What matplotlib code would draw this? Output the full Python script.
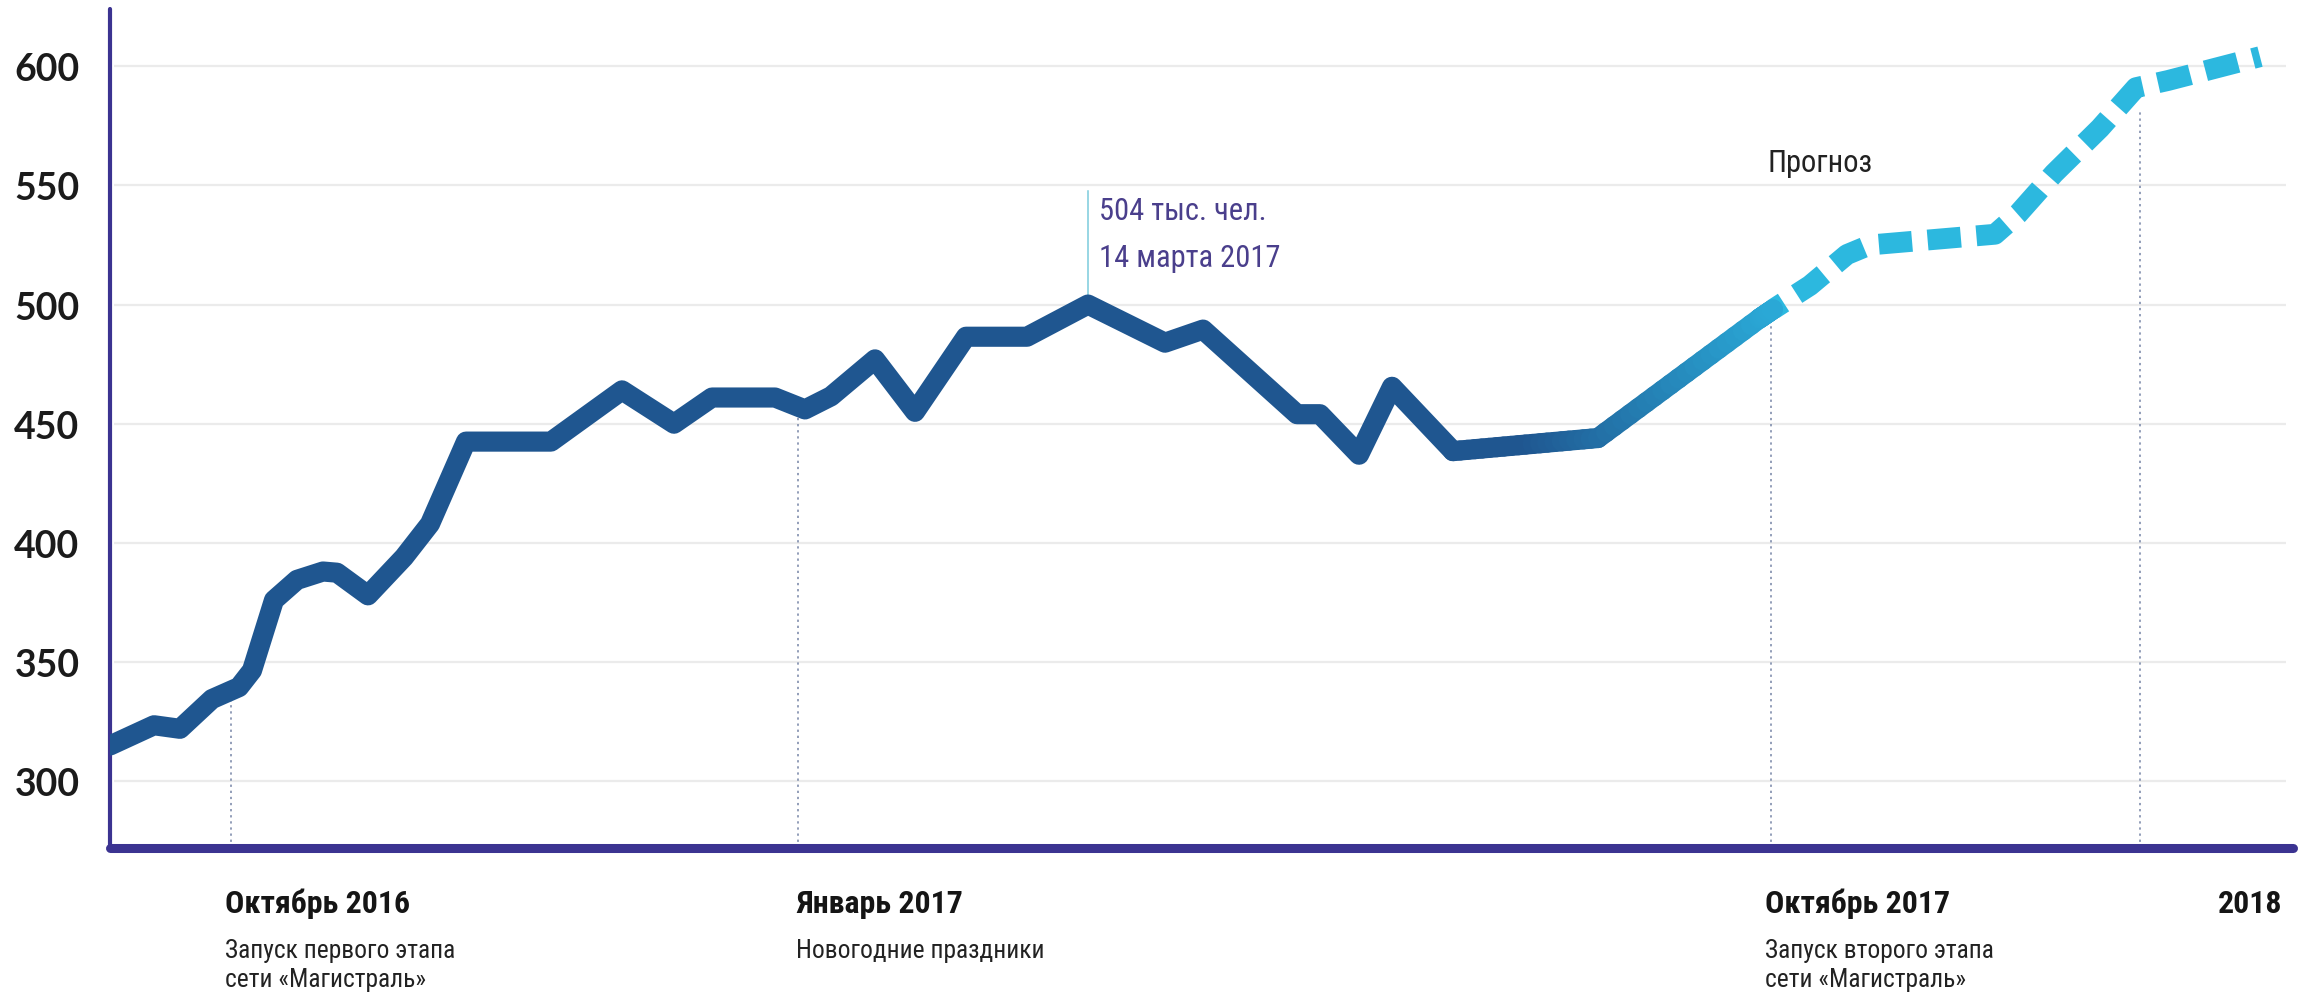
import numpy as np
import matplotlib
matplotlib.use("Agg")
import matplotlib.pyplot as plt
from matplotlib import font_manager
from matplotlib.collections import LineCollection
from matplotlib.colors import to_rgb

# fonts: a narrow face for captions if one is installed, Lato for the y ticks
ttf = font_manager.fontManager.ttflist
names = {f.name for f in ttf}
narrow, stretch = "Roboto", "normal"
for cand in ["Liberation Sans Narrow", "Roboto Condensed", "Open Sans Condensed",
             "Noto Sans Condensed", "DejaVu Sans Condensed"]:
    if cand in names:
        narrow = cand
        break
else:
    for f in ttf:
        if "condensed" in str(f.stretch) and f.name in ("DejaVu Sans", "Noto Sans", "Open Sans", "Roboto"):
            narrow, stretch = f.name, "condensed"
            break
tickfont = "Lato" if "Lato" in names else "DejaVu Sans"

# passenger flow, thousand people (position along the time axis)
fact_x = [0, 44, 70, 102, 129, 142, 164, 187, 213, 227, 258, 294, 320, 356, 441, 512,
          564, 602, 665, 695, 721, 765, 805, 856, 917, 978, 1055, 1093, 1187, 1210,
          1249, 1282, 1343, 1488, 1649, 1663]
fact_y = [315, 323.5, 322, 334.5, 339.5, 346.5, 376, 384.5, 388, 387.5, 378, 394, 408,
          442.5, 442.5, 464, 450, 461, 461, 456, 461.5, 477, 455, 486.5, 486.5, 500,
          484, 489.5, 454, 454, 437, 465.5, 438.5, 444, 494, 498]

forecast_x = [1663, 1700, 1737, 1760, 1885, 1908, 1944, 1990, 2026, 2058, 2150]
forecast_y = [498, 508, 521, 525, 529.5, 538, 555, 574, 591, 594, 604]

# marked dates on the axis
event_x = [121, 688, 1661, 2030]
event_top = [337, 453, 497, 581]
event_titles = ["Октябрь 2016", "Январь 2017", "Октябрь 2017"]
event_notes = [["Запуск первого этапа", "сети «Магистраль»"], ["Новогодние праздники"],
               ["Запуск второго этапа", "сети «Магистраль»"]]
event_label_x = [115, 686, 1655]

peak_x, peak_y = 978, 500
peak_text = ["504 тыс. чел.", "14 марта 2017"]

yticks = [300, 350, 400, 450, 500, 550, 600]

W, H = 2313, 995
fig = plt.figure(figsize=(W / 100, H / 100), dpi=100)
ax = fig.add_axes([110 / W, (H - 849) / H, (2293 - 110) / W, (849 - 10) / H])
ax.set_xlim(0, 2183)
ax.set_ylim(272, 624)
renderer = fig.canvas.get_renderer()


def fit_size(text, width_px, size=20, **props):
    # font size that makes the text as wide as in the reference
    t = fig.text(0, 0, text, fontsize=size, **props)
    w = t.get_window_extent(renderer).width
    t.remove()
    return size * width_px / w


navy = "#3b3391"
dark = "#1f5690"
light = "#2aa8d6"
dash_c = "#2cb8df"

for s in ["top", "right"]:
    ax.spines[s].set_visible(False)
ax.spines["left"].set_color(navy)
ax.spines["left"].set_linewidth(3)
ax.spines["bottom"].set_color(navy)
ax.spines["bottom"].set_linewidth(6.5)
ax.spines["bottom"].set_capstyle("round")
ax.spines["left"].set_capstyle("round")

ax.set_xticks([])
ax.set_yticks(yticks)
ax.set_yticklabels([str(v) for v in yticks], fontsize=27, fontweight="bold",
                   family=tickfont, color="#1b1b1b")
ax.tick_params(axis="y", length=0, pad=22)

for v in yticks:
    ax.plot([4, 2176], [v, v], color="#ebebeb", lw=1.6, zorder=1, solid_capstyle="butt")

# dotted guides from the axis up to the line
for x, top in zip(event_x, event_top):
    ax.plot([x, x], [272, top], color="#7584a6", lw=1.1, ls=(0, (1.5, 2.5)), zorder=2)

font = dict(family=narrow, fontstretch=stretch)
kw = dict(va="baseline", ha="left", **font)
title_fs = min(fit_size("Октябрь 2016", 185, fontweight="bold", **font), 30)
note_fs = min(fit_size("Запуск первого этапа", 217, **font) * 1.06, 28)
peak_fs = min(fit_size(peak_text[1], 181, **font), 30)

# peak marker
ax.plot([peak_x, peak_x], [peak_y, 547.5], color="#7ccbdc", lw=1.1, zorder=2)
ax.text(peak_x + 11, 535.7, peak_text[0], fontsize=peak_fs, color="#4a3f8c", **kw)
ax.text(peak_x + 11, 516, peak_text[1], fontsize=peak_fs, color="#4a3f8c", **kw)

ax.text(1657, 555.9, "Прогноз", fontsize=peak_fs, color="#222222", **kw)

# actual data: dark line, fading to light blue towards the forecast
split = fact_x.index(1343)
ax.plot(fact_x[:split + 1], fact_y[:split + 1], color=dark, lw=14.5,
        solid_joinstyle="round", solid_capstyle="round", zorder=5)
segs, cols = [], []
c0, c1 = np.array(to_rgb(dark)), np.array(to_rgb(light))
for i in range(split, len(fact_x) - 1):
    xa, xb = fact_x[i], fact_x[i + 1]
    ya, yb = fact_y[i], fact_y[i + 1]
    n = 20
    for k in range(n):
        t0, t1 = k / n, (k + 1) / n
        xs0, xs1 = xa + (xb - xa) * t0, xa + (xb - xa) * t1
        segs.append([(xs0, ya + (yb - ya) * t0), (xs1, ya + (yb - ya) * t1)])
        f = np.clip((0.5 * (xs0 + xs1) - 1420) / (1663 - 1420), 0, 1)
        cols.append(c0 + (c1 - c0) * f)
lc = LineCollection(segs, colors=cols, linewidths=14.5, capstyle="round",
                    joinstyle="round", zorder=5)
ax.add_collection(lc)

# forecast
ax.plot(forecast_x, forecast_y, color=dash_c, lw=15, ls=(1.0, (1.6, 0.75)),
        dash_capstyle="butt", dash_joinstyle="round", zorder=4)

# labels under the axis
to_fig = lambda ypx: (H - ypx) / H
trans = matplotlib.transforms.blended_transform_factory(ax.transData, fig.transFigure)
for x, t, note in zip(event_label_x, event_titles, event_notes):
    ax.text(x, to_fig(913), t, transform=trans, fontsize=title_fs, fontweight="bold",
            color="#151515", **kw)
    for j, line in enumerate(note):
        ax.text(x, to_fig(958 + 29 * j), line, transform=trans, fontsize=note_fs,
                color="#222222", **kw)
ax.text(2172, to_fig(913), "2018", transform=trans, fontsize=title_fs, fontweight="bold",
        color="#151515", va="baseline", ha="right", **font)

fig.savefig("out.png", dpi=100)
